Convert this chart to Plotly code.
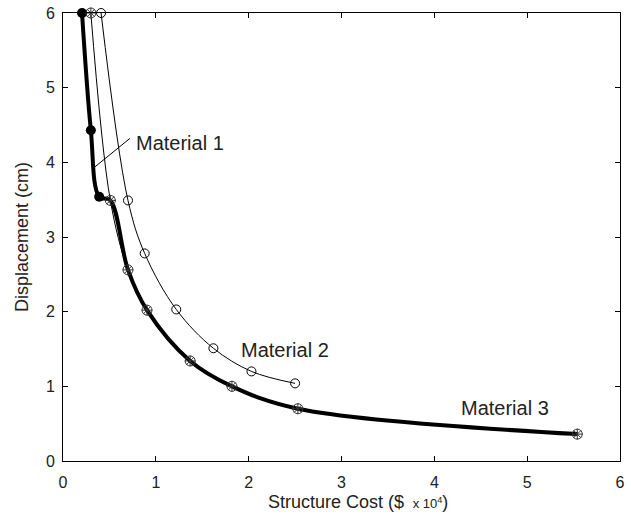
import plotly.graph_objects as go

# Material 1 (thick line, filled dots, merges with Material 3 curve)
m1_x = [0.205, 0.30, 0.39, 0.51, 0.70, 0.905, 1.37, 1.82, 2.53, 5.54]
m1_y = [6.0, 4.43, 3.54, 3.49, 2.56, 2.02, 1.34, 1.00, 0.70, 0.36]
m1_mark_x = [0.205, 0.30, 0.39]
m1_mark_y = [6.0, 4.43, 3.54]

# Material 2 (thin line, open circles)
m2_x = [0.41, 0.70, 0.88, 1.22, 1.62, 2.03, 2.50]
m2_y = [6.0, 3.49, 2.78, 2.03, 1.51, 1.20, 1.04]

# Material 3 (thin line, circled asterisks)
m3_x = [0.30, 0.51, 0.70, 0.905, 1.37, 1.82, 2.53, 5.54]
m3_y = [6.0, 3.49, 2.56, 2.02, 1.34, 1.00, 0.70, 0.36]

x_ticks = [0, 1, 2, 3, 4, 5, 6]
y_ticks = [0, 1, 2, 3, 4, 5, 6]

fig = go.Figure()

fig.add_trace(go.Scatter(x=m2_x, y=m2_y, mode="lines+markers",
                         line=dict(color="black", width=1, shape="spline", smoothing=1),
                         marker=dict(symbol="circle-open", size=9, color="black", line=dict(width=1)),
                         cliponaxis=False, showlegend=False))
fig.add_trace(go.Scatter(x=m3_x, y=m3_y, mode="lines",
                         line=dict(color="black", width=1, shape="spline", smoothing=1),
                         cliponaxis=False, showlegend=False))
fig.add_trace(go.Scatter(x=m1_x, y=m1_y, mode="lines",
                         line=dict(color="black", width=4, shape="spline", smoothing=1),
                         cliponaxis=False, showlegend=False))
fig.add_trace(go.Scatter(x=m1_mark_x, y=m1_mark_y, mode="markers",
                         marker=dict(symbol="circle", size=10, color="black"),
                         cliponaxis=False, showlegend=False))
fig.add_trace(go.Scatter(x=m3_x, y=m3_y, mode="markers",
                         marker=dict(symbol="circle-open", size=10, color="#333", line=dict(width=1)),
                         cliponaxis=False, showlegend=False))
fig.add_trace(go.Scatter(x=m3_x, y=m3_y, mode="markers",
                         marker=dict(symbol="asterisk-open", size=9, color="#333", line=dict(width=1)),
                         cliponaxis=False, showlegend=False))

font_fam = "Liberation Sans, Arial, sans-serif"
lbl_font = dict(size=20, color="#222", family=font_fam)
ttl_font = dict(size=18, color="#222", family=font_fam)
fig.add_annotation(x=0.77, y=4.26, text="Material 1", showarrow=False, xanchor="left", font=lbl_font)
fig.add_shape(type="line", x0=0.72, y0=4.32, x1=0.345, y1=3.94, line=dict(color="black", width=1))
fig.add_annotation(x=2.39, y=1.48, text="Material 2", showarrow=False, font=lbl_font)
fig.add_annotation(x=4.76, y=0.71, text="Material 3", showarrow=False, font=lbl_font)

# axis titles
fig.add_annotation(xref="paper", yref="paper", x=0.53, y=0, yshift=-41, yanchor="middle",
                   text="Structure Cost ($ <span style='font-size:13px'> x 10<sup>4</sup></span>)",
                   showarrow=False, font=ttl_font)
fig.add_annotation(xref="paper", yref="paper", x=0, xshift=-41, y=0.5, textangle=-90,
                   xanchor="center", yanchor="middle",
                   text="Displacement (cm)", showarrow=False, font=ttl_font)

axis_common = dict(showline=True, linecolor="black", linewidth=1, mirror="ticks",
                   ticks="inside", ticklen=5, tickcolor="black", showgrid=False, zeroline=False,
                   automargin=False,
                   tickfont=dict(size=16, color="#222", family=font_fam))

fig.update_xaxes(range=[0, 6], tickvals=x_ticks, ticktext=[str(v) for v in x_ticks],
                 ticklabelstandoff=7, **axis_common)
fig.update_yaxes(range=[0, 6], tickvals=y_ticks, ticktext=[str(v) for v in y_ticks],
                 ticklabelstandoff=4, **axis_common)

fig.update_layout(width=631, height=519, plot_bgcolor="white", paper_bgcolor="white",
                  margin=dict(l=63, r=11, t=13, b=58), font=dict(family=font_fam))

fig.write_html("out.html", config={"displayModeBar": False},
               post_script="document.body.style.margin='0px';")
